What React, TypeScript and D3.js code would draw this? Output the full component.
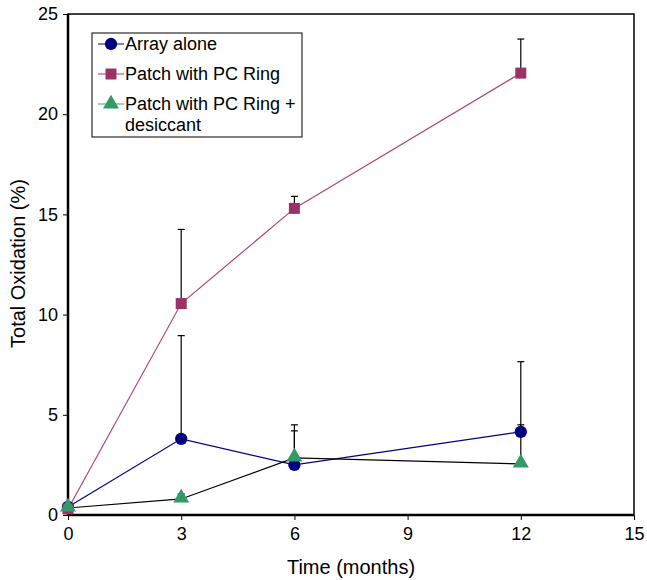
import React, { useEffect, useRef } from "react";
import * as d3 from "d3";

const months = [0, 3, 6, 12];
const arrayAlone = [0.4, 3.8, 2.5, 4.15];
const arrayAloneErr = [0, 5.15, 1.7, 3.5];
const patchRing = [0.3, 10.55, 15.3, 22.05];
const patchRingErr = [0, 3.7, 0.6, 1.7];
const patchDesiccant = [0.35, 0.8, 2.85, 2.55];
const patchDesiccantErr = [0, 0.25, 1.65, 1.95];
const xTicks = [0, 3, 6, 9, 12, 15];
const yTicks = [0, 5, 10, 15, 20, 25];

export default function App() {
  const ref = useRef<SVGSVGElement>(null);

  useEffect(() => {
    const margin = { top: 14, right: 13, bottom: 65, left: 68 };
    const W = 647, H = 580;
    const width = W - margin.left - margin.right;
    const height = H - margin.top - margin.bottom;
    const font = "'Liberation Sans', Arial, sans-serif";

    const root = d3.select(ref.current);
    root.selectAll("*").remove();
    const svg = root.append("g").attr("transform", `translate(${margin.left},${margin.top})`);

    const x = d3.scaleLinear().domain([0, 15]).range([0, width]);
    const y = d3.scaleLinear().domain([0, 25]).range([height, 0]);

    // frame
    svg.append("rect").attr("x", 0).attr("y", 0).attr("width", width).attr("height", height)
      .attr("fill", "none").attr("stroke", "#000").attr("stroke-width", 1.5);
    svg.append("line").attr("x1", 0).attr("x2", 0).attr("y1", 0).attr("y2", height)
      .attr("stroke", "#000").attr("stroke-width", 2.5);
    svg.append("line").attr("x1", 0).attr("x2", width).attr("y1", height).attr("y2", height)
      .attr("stroke", "#000").attr("stroke-width", 2.5);

    const yAxis = svg.append("g").call(d3.axisLeft(y).tickValues(yTicks).tickSize(5).tickPadding(5));
    const xAxis = svg.append("g").attr("transform", `translate(0,${height})`)
      .call(d3.axisBottom(x).tickValues(xTicks).tickSize(5).tickPadding(7));
    [xAxis, yAxis].forEach(a => {
      a.select(".domain").remove();
      a.selectAll("text").style("font-family", font).style("font-size", "18px").style("fill", "#000");
      a.selectAll("line").attr("stroke", "#000");
    });

    svg.append("text").attr("x", width / 2).attr("y", height + 59).attr("text-anchor", "middle")
      .style("font-family", font).style("font-size", "20px").text("Time (months)");
    svg.append("text").attr("transform", `translate(${-43},${height / 2 - 1}) rotate(-90)`)
      .attr("text-anchor", "middle").style("font-family", font).style("font-size", "20px")
      .text("Total Oxidation (%)");

    const series = [
      { name: "Array alone", vals: arrayAlone, err: arrayAloneErr, line: "#000080", fill: "#000080", shape: "circle", legendLine: "#2a2aa0" },
      { name: "Patch with PC Ring", vals: patchRing, err: patchRingErr, line: "#b0457e", fill: "#993366", shape: "square", legendLine: "#c0508a" },
      { name: "Patch with PC Ring +", vals: patchDesiccant, err: patchDesiccantErr, line: "#000", fill: "#339966", shape: "triangle", legendLine: "#5fb38a" },
    ];

    const symbolFor = (s: string) =>
      s === "circle" ? d3.symbol(d3.symbolCircle, 120)()
        : s === "square" ? d3.symbol(d3.symbolSquare, 121)()
        : d3.symbol(d3.symbolTriangle, 110)();

    // error bars
    series.forEach(s => {
      months.forEach((m, i) => {
        if (s.err[i] <= 0) return;
        const top = y(s.vals[i] + s.err[i]);
        svg.append("line").attr("x1", x(m)).attr("x2", x(m)).attr("y1", y(s.vals[i])).attr("y2", top)
          .attr("stroke", "#000").attr("stroke-width", 1.2);
        svg.append("line").attr("x1", x(m) - 3.5).attr("x2", x(m) + 3.5).attr("y1", top).attr("y2", top)
          .attr("stroke", "#000").attr("stroke-width", 1.2);
      });
    });

    // lines
    const lineGen = d3.line<number>().x((_, i) => x(months[i])).y(d => y(d));
    series.forEach(s => {
      svg.append("path").datum(s.vals).attr("d", lineGen).attr("fill", "none")
        .attr("stroke", s.line).attr("stroke-width", 1.2);
    });

    // markers
    series.forEach(s => {
      svg.selectAll(null).data(s.vals).enter().append("path")
        .attr("d", symbolFor(s.shape))
        .attr("transform", (d, i) => `translate(${x(months[i])},${y(d) + (s.shape === "triangle" ? -1 : 0)})`)
        .attr("fill", s.fill);
    });

    // legend
    const lg = svg.append("g").attr("transform", `translate(${92 - margin.left},${33 - margin.top})`);
    lg.append("rect").attr("width", 210).attr("height", 104).attr("fill", "#fff")
      .attr("stroke", "#000").attr("stroke-width", 1);
    series.forEach((s, i) => {
      const cy = 11 + i * 30;
      lg.append("line").attr("x1", 6).attr("x2", 32).attr("y1", cy).attr("y2", cy)
        .attr("stroke", s.legendLine).attr("stroke-width", 1.2);
      lg.append("path").attr("d", symbolFor(s.shape)).attr("transform", `translate(19,${cy})`)
        .attr("fill", s.fill);
      lg.append("text").attr("x", 33).attr("y", cy + 6).style("font-family", font)
        .style("font-size", "18px").text(s.name);
    });
    lg.append("text").attr("x", 33).attr("y", 11 + 2 * 30 + 27).style("font-family", font)
      .style("font-size", "18px").text("desiccant");
  }, []);

  return <svg ref={ref} width={647} height={580} style={{ position: "absolute", left: 0, top: 0, background: "#fff" }} />;
}
